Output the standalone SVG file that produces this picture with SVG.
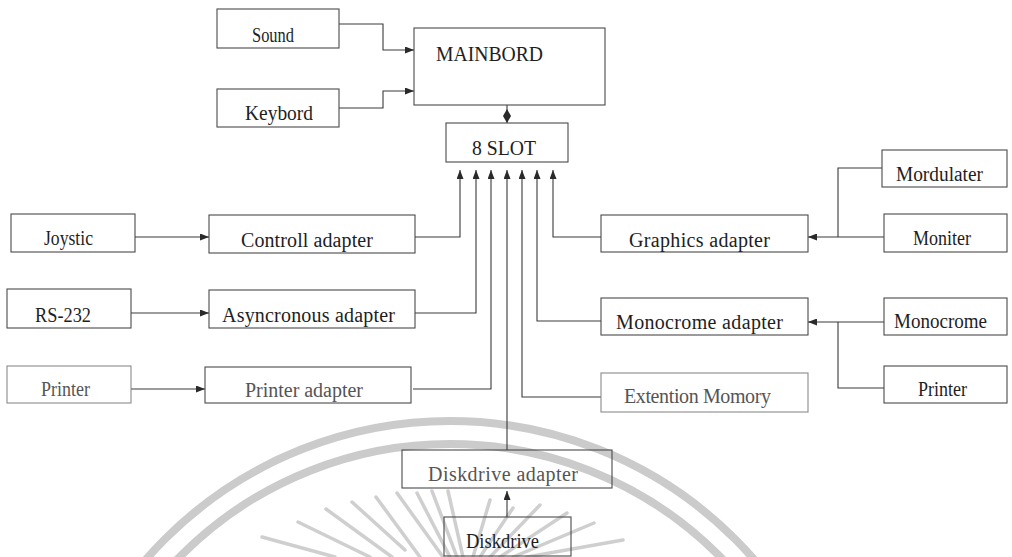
<svg xmlns="http://www.w3.org/2000/svg" width="1012" height="557" viewBox="0 0 1012 557">
<style>
.box{fill:none;stroke:#4a4a4a;stroke-width:1.1}
.lbox{fill:none;stroke:#8a8a8a;stroke-width:1.1}
.t{font-family:"Liberation Serif","Times New Roman",serif;font-size:20px;fill:#1e1e1e}
.lt{fill:#555}
.c{fill:none;stroke:#3a3a3a;stroke-width:1.1}
.wm{fill:none;stroke:#cbcbcb;stroke-width:8}
.ray{stroke:#cfcfcf;stroke-width:3.5;stroke-linecap:round}
</style>
<defs>
<marker id="ah" markerUnits="userSpaceOnUse" markerWidth="9" markerHeight="7" refX="9" refY="3.5" orient="auto">
<path d="M0,0 L9,3.5 L0,7 Z" fill="#2a2a2a"/>
</marker>
</defs>
<rect width="1012" height="557" fill="#ffffff"/>
<g id="watermark">
<circle class="wm" cx="450" cy="824" r="403"/>
<circle class="wm" cx="450" cy="824" r="380"/>
<line class="ray" x1="262" y1="537" x2="335" y2="557"/>
<line class="ray" x1="298" y1="522" x2="370" y2="557"/>
<line class="ray" x1="326" y1="509" x2="392" y2="557"/>
<line class="ray" x1="352" y1="502" x2="405" y2="550"/>
<line class="ray" x1="376" y1="497" x2="420" y2="557"/>
<line class="ray" x1="397" y1="493" x2="443" y2="557"/>
<line class="ray" x1="417" y1="493" x2="450" y2="557"/>
<line class="ray" x1="432" y1="491" x2="457" y2="557"/>
<line class="ray" x1="448" y1="491" x2="463" y2="557"/>
<line class="ray" x1="490" y1="500" x2="473" y2="557"/>
<line class="ray" x1="513" y1="508" x2="480" y2="557"/>
<line class="ray" x1="540" y1="505" x2="490" y2="557"/>
<line class="ray" x1="567" y1="513" x2="500" y2="557"/>
<line class="ray" x1="594" y1="523" x2="513" y2="557"/>
<line class="ray" x1="623" y1="540" x2="527" y2="557"/>
</g>
<g id="connectors">
<path class="c" d="M339,24 H383 V50 H414" marker-end="url(#ah)"/>
<path class="c" d="M339,108 H383 V91 H414" marker-end="url(#ah)"/>
<line class="c" x1="507" y1="105" x2="507" y2="123"/>
<polygon points="507,109 511,116 507,123 503,116" fill="#2a2a2a"/>
<path class="c" d="M415,237 H460 V170" marker-end="url(#ah)"/>
<path class="c" d="M415,313 H476 V170" marker-end="url(#ah)"/>
<path class="c" d="M413,389 H491 V170" marker-end="url(#ah)"/>
<path class="c" d="M507,450 V170" marker-end="url(#ah)"/>
<path class="c" d="M601,397 H522 V170" marker-end="url(#ah)"/>
<path class="c" d="M601,321 H537 V170" marker-end="url(#ah)"/>
<path class="c" d="M601,237 H553 V170" marker-end="url(#ah)"/>
<path class="c" d="M135,237 H209" marker-end="url(#ah)"/>
<path class="c" d="M131,313 H209" marker-end="url(#ah)"/>
<path class="c" d="M131,389 H205" marker-end="url(#ah)"/>
<path class="c" d="M884,237 H808" marker-end="url(#ah)"/>
<path class="c" d="M882,168 H838 V237"/>
<path class="c" d="M884,322 H808" marker-end="url(#ah)"/>
<path class="c" d="M884,388 H838 V322"/>
<path class="c" d="M507,517 V491" marker-end="url(#ah)"/>
</g>
<g id="sound"><rect class="box" x="217" y="9" width="122" height="39"/><text class="t" x="252" y="42" textLength="42" lengthAdjust="spacingAndGlyphs">Sound</text></g>
<g id="keybord"><rect class="box" x="217" y="89" width="122" height="38"/><text class="t" x="245" y="120" textLength="68" lengthAdjust="spacingAndGlyphs">Keybord</text></g>
<g id="mainbord"><rect class="box" x="414" y="28" width="191" height="77"/><text class="t" x="436" y="61" textLength="107" lengthAdjust="spacingAndGlyphs">MAINBORD</text></g>
<g id="slot"><rect class="box" x="446" y="123" width="122" height="39"/><text class="t" x="472" y="155" textLength="64" lengthAdjust="spacingAndGlyphs">8 SLOT</text></g>
<g id="joystic"><rect class="box" x="11" y="214" width="124" height="38"/><text class="t" x="44" y="245" textLength="49" lengthAdjust="spacingAndGlyphs">Joystic</text></g>
<g id="controll"><rect class="box" x="209" y="215" width="206" height="38"/><text class="t" x="241" y="247" textLength="132">Controll adapter</text></g>
<g id="rs232"><rect class="box" x="7" y="289" width="124" height="39"/><text class="t" x="35" y="322" textLength="56" lengthAdjust="spacingAndGlyphs">RS-232</text></g>
<g id="async"><rect class="box" x="209" y="290" width="206" height="38"/><text class="t" x="222" y="322" textLength="173">Asyncronous adapter</text></g>
<g id="printer-left"><rect class="lbox" x="7" y="366" width="124" height="37"/><text class="t lt" x="41" y="396" textLength="49" lengthAdjust="spacingAndGlyphs">Printer</text></g>
<g id="printer-adapter"><rect class="box" x="205" y="367" width="206" height="36"/><text class="t lt" x="245" y="397" textLength="118">Printer adapter</text></g>
<g id="graphics"><rect class="box" x="601" y="215" width="207" height="37"/><text class="t" x="629" y="247" textLength="141">Graphics adapter</text></g>
<g id="monocrome-adapter"><rect class="box" x="601" y="298" width="207" height="37"/><text class="t" x="616" y="329" textLength="167">Monocrome adapter</text></g>
<g id="extention"><rect class="lbox" x="601" y="373" width="207" height="39"/><text class="t lt" x="624" y="403" textLength="147">Extention Momory</text></g>
<g id="mordulater"><rect class="box" x="882" y="150" width="125" height="37"/><text class="t" x="896" y="181" textLength="87" lengthAdjust="spacingAndGlyphs">Mordulater</text></g>
<g id="moniter"><rect class="box" x="884" y="214" width="123" height="38"/><text class="t" x="913" y="245" textLength="58" lengthAdjust="spacingAndGlyphs">Moniter</text></g>
<g id="monocrome"><rect class="box" x="884" y="298" width="123" height="37"/><text class="t" x="894" y="328" textLength="93" lengthAdjust="spacingAndGlyphs">Monocrome</text></g>
<g id="printer-right"><rect class="box" x="884" y="366" width="123" height="37"/><text class="t" x="918" y="396" textLength="49" lengthAdjust="spacingAndGlyphs">Printer</text></g>
<g id="diskdrive-adapter"><rect class="box" x="402" y="450" width="210" height="38"/><text class="t lt" x="428" y="481" textLength="150">Diskdrive adapter</text></g>
<g id="diskdrive"><rect class="box" x="444" y="517" width="127" height="39"/><text class="t" x="466" y="548" textLength="73" lengthAdjust="spacingAndGlyphs">Diskdrive</text></g>
</svg>
